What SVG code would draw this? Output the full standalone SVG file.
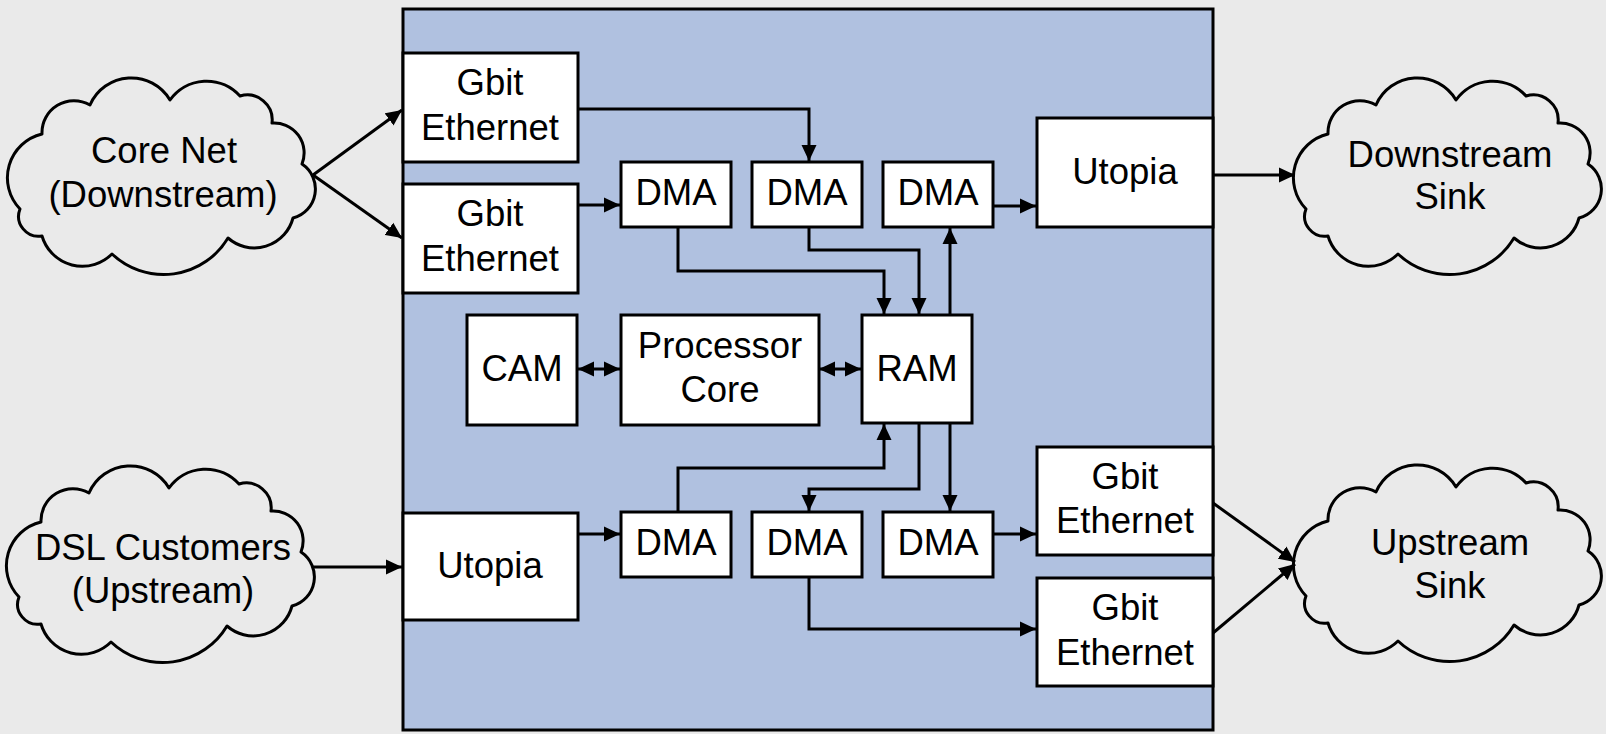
<svg xmlns="http://www.w3.org/2000/svg" xmlns:xlink="http://www.w3.org/1999/xlink" width="1606" height="734" viewBox="0 0 1606 734">
  <style>
    .box { fill: #ffffff; stroke: #000000; stroke-width: 3; }
    .cloud { fill: #eaeaea; stroke: #000000; stroke-width: 3; stroke-linejoin: round; }
    .lbl { font-family: "Liberation Sans", Arial, sans-serif; font-size: 36.5px; fill: #000000; text-anchor: middle; }
    .wire { fill: none; stroke: #000000; stroke-width: 3; marker-end: url(#arrow); }
    .both { marker-start: url(#arrow-rev); }
  </style>
  <defs>
    <marker id="arrow" markerUnits="userSpaceOnUse" markerWidth="16" markerHeight="16" refX="16" refY="8" orient="auto">
      <path d="M0,0.5 L16,8 L0,15.5 Z" fill="#000000"/>
    </marker>
    <marker id="arrow-rev" markerUnits="userSpaceOnUse" markerWidth="16" markerHeight="16" refX="0" refY="8" orient="auto">
      <path d="M16,0.5 L0,8 L16,15.5 Z" fill="#000000"/>
    </marker>
    <path id="cloud-shape" class="cloud" d="M34,53 A32,32 0 0 1 82,24 A45,45 0 0 1 162,19 A45,45 0 0 1 232,15 A25,25 0 0 1 264,42 A30,30 0 0 1 294,83 A30,30 0 0 1 285,137 A40,40 0 0 1 220,157 A75,75 0 0 1 104,173 A42,42 0 0 1 34,155 A20,20 0 0 1 12,128 A45,45 0 0 1 34,53 Z"/>
  </defs>

  <!-- page background -->
  <rect x="0" y="0" width="1606" height="734" fill="#eaeaea"/>

  <!-- line card enclosure -->
  <g id="line-card">
    <rect x="403" y="9" width="810" height="721" fill="#b0c1e0" stroke="#000000" stroke-width="3"/>
  </g>

  <!-- external networks -->
  <g id="core-net">
    <use xlink:href="#cloud-shape" href="#cloud-shape" transform="translate(8,81)"/>
    <text class="lbl" x="164" y="163">Core Net</text>
    <text class="lbl" x="163" y="207">(Downstream)</text>
  </g>
  <g id="dsl-customers">
    <use xlink:href="#cloud-shape" href="#cloud-shape" transform="translate(7,469)"/>
    <text class="lbl" x="163" y="560">DSL Customers</text>
    <text class="lbl" x="163" y="603">(Upstream)</text>
  </g>
  <g id="downstream-sink">
    <use xlink:href="#cloud-shape" href="#cloud-shape" transform="translate(1294,81)"/>
    <text class="lbl" x="1450" y="167">Downstream</text>
    <text class="lbl" x="1450" y="209">Sink</text>
  </g>
  <g id="upstream-sink">
    <use xlink:href="#cloud-shape" href="#cloud-shape" transform="translate(1294,468)"/>
    <text class="lbl" x="1450" y="555">Upstream</text>
    <text class="lbl" x="1450" y="598">Sink</text>
  </g>

  <!-- interfaces -->
  <g id="gbe-in-1">
    <rect class="box" x="403" y="53" width="175" height="109"/>
    <text class="lbl" x="490" y="95">Gbit</text>
    <text class="lbl" x="490" y="140">Ethernet</text>
  </g>
  <g id="gbe-in-2">
    <rect class="box" x="403" y="184" width="175" height="109"/>
    <text class="lbl" x="490" y="226">Gbit</text>
    <text class="lbl" x="490" y="271">Ethernet</text>
  </g>
  <g id="utopia-in">
    <rect class="box" x="403" y="513" width="175" height="107"/>
    <text class="lbl" x="490" y="578">Utopia</text>
  </g>
  <g id="utopia-out">
    <rect class="box" x="1037" y="118" width="176" height="109"/>
    <text class="lbl" x="1125" y="184">Utopia</text>
  </g>
  <g id="gbe-out-1">
    <rect class="box" x="1037" y="447" width="176" height="108"/>
    <text class="lbl" x="1125" y="489">Gbit</text>
    <text class="lbl" x="1125" y="533">Ethernet</text>
  </g>
  <g id="gbe-out-2">
    <rect class="box" x="1037" y="578" width="176" height="108"/>
    <text class="lbl" x="1125" y="620">Gbit</text>
    <text class="lbl" x="1125" y="665">Ethernet</text>
  </g>

  <!-- DMA engines -->
  <g id="dma-d1">
    <rect class="box" x="621" y="162" width="110" height="65"/>
    <text class="lbl" x="676" y="205">DMA</text>
  </g>
  <g id="dma-d2">
    <rect class="box" x="752" y="162" width="110" height="65"/>
    <text class="lbl" x="807" y="205">DMA</text>
  </g>
  <g id="dma-d3">
    <rect class="box" x="883" y="162" width="110" height="65"/>
    <text class="lbl" x="938" y="205">DMA</text>
  </g>
  <g id="dma-u1">
    <rect class="box" x="621" y="512" width="110" height="65"/>
    <text class="lbl" x="676" y="555">DMA</text>
  </g>
  <g id="dma-u2">
    <rect class="box" x="752" y="512" width="110" height="65"/>
    <text class="lbl" x="807" y="555">DMA</text>
  </g>
  <g id="dma-u3">
    <rect class="box" x="883" y="512" width="110" height="65"/>
    <text class="lbl" x="938" y="555">DMA</text>
  </g>

  <!-- processing core -->
  <g id="cam">
    <rect class="box" x="467" y="315" width="110" height="110"/>
    <text class="lbl" x="522" y="381">CAM</text>
  </g>
  <g id="processor-core">
    <rect class="box" x="621" y="315" width="198" height="110"/>
    <text class="lbl" x="720" y="358">Processor</text>
    <text class="lbl" x="720" y="402">Core</text>
  </g>
  <g id="ram">
    <rect class="box" x="862" y="315" width="110" height="108"/>
    <text class="lbl" x="917" y="381">RAM</text>
  </g>

  <!-- data paths -->
  <g id="connectors">
    <path class="wire" d="M313,175 L402,110"/>
    <path class="wire" d="M313,175 L402,238"/>
    <path class="wire" d="M578,109 H809 V161"/>
    <path class="wire" d="M578,205 H620"/>
    <path class="wire" d="M678,227 V271 H884 V314"/>
    <path class="wire" d="M809,227 V250 H919 V314"/>
    <path class="wire" d="M950,315 V228"/>
    <path class="wire" d="M993,206 H1036"/>
    <path class="wire" d="M1213,175 H1295"/>
    <path class="wire both" d="M578,369 H620"/>
    <path class="wire both" d="M819,369 H861"/>
    <path class="wire" d="M313,567 H402"/>
    <path class="wire" d="M578,534 H620"/>
    <path class="wire" d="M678,512 V468 H884 V424"/>
    <path class="wire" d="M919,423 V489 H809 V511"/>
    <path class="wire" d="M950,423 V511"/>
    <path class="wire" d="M993,534 H1036"/>
    <path class="wire" d="M809,577 V629 H1036"/>
    <path class="wire" d="M1213,503 L1295,562"/>
    <path class="wire" d="M1213,633 L1295,564"/>
  </g>
</svg>
